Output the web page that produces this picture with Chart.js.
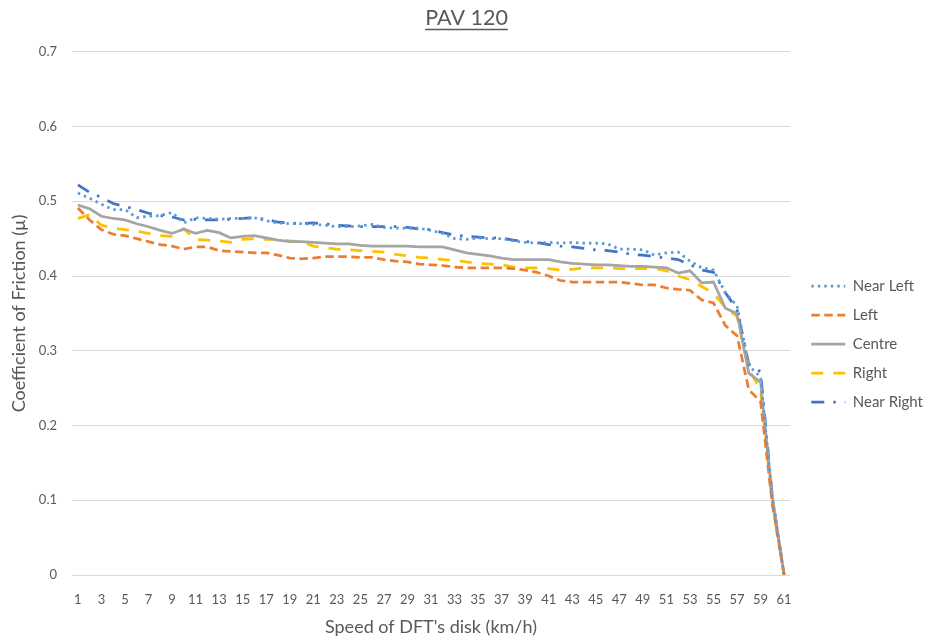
<!DOCTYPE html>
<html>
<head>
<meta charset="utf-8">
<title>PAV 120</title>
<script src="https://cdn.jsdelivr.net/npm/chart.js@4.4.1/dist/chart.umd.min.js"></script>
<style>
  body { margin: 0; background: #fff; }
  canvas { display: block; }
</style>
</head>
<body>
<canvas id="chart" width="933" height="641"></canvas>
<script>
// speed of the DFT disk (km/h), one category per reading
var speeds = [1, 2, 3, 4, 5, 6, 7, 8, 9, 10,
  11, 12, 13, 14, 15, 16, 17, 18, 19, 20,
  21, 22, 23, 24, 25, 26, 27, 28, 29, 30,
  31, 32, 33, 34, 35, 36, 37, 38, 39, 40,
  41, 42, 43, 44, 45, 46, 47, 48, 49, 50,
  51, 52, 53, 54, 55, 56, 57, 58, 59, 60, 61];

var nearLeft = [0.511, 0.504, 0.496, 0.489, 0.489, 0.478, 0.480, 0.481, 0.485, 0.471,
  0.478, 0.477, 0.476, 0.477, 0.477, 0.478, 0.474, 0.471, 0.470, 0.470,
  0.469, 0.468, 0.466, 0.466, 0.467, 0.469, 0.465, 0.464, 0.464, 0.464,
  0.461, 0.457, 0.450, 0.449, 0.451, 0.450, 0.450, 0.447, 0.445, 0.444,
  0.445, 0.444, 0.445, 0.444, 0.444, 0.443, 0.436, 0.436, 0.435, 0.428,
  0.431, 0.432, 0.420, 0.411, 0.408, 0.378, 0.360, 0.280, 0.265, 0.100, 0.000];

var left = [0.491, 0.475, 0.462, 0.456, 0.454, 0.450, 0.446, 0.442, 0.440, 0.436,
  0.439, 0.439, 0.434, 0.433, 0.432, 0.431, 0.431, 0.428, 0.424, 0.423,
  0.424, 0.426, 0.426, 0.426, 0.425, 0.425, 0.422, 0.420, 0.419, 0.416,
  0.415, 0.414, 0.412, 0.411, 0.411, 0.411, 0.411, 0.410, 0.408, 0.405,
  0.400, 0.394, 0.392, 0.392, 0.392, 0.392, 0.392, 0.390, 0.388, 0.388,
  0.384, 0.382, 0.381, 0.368, 0.364, 0.334, 0.320, 0.248, 0.232, 0.095, 0.000];

var centre = [0.495, 0.490, 0.480, 0.477, 0.475, 0.470, 0.466, 0.461, 0.457, 0.463,
  0.457, 0.461, 0.458, 0.451, 0.453, 0.454, 0.451, 0.448, 0.446, 0.446,
  0.445, 0.444, 0.443, 0.443, 0.441, 0.440, 0.440, 0.440, 0.440, 0.439,
  0.439, 0.439, 0.435, 0.431, 0.429, 0.427, 0.424, 0.422, 0.422, 0.422,
  0.422, 0.419, 0.417, 0.416, 0.415, 0.415, 0.414, 0.413, 0.413, 0.412,
  0.411, 0.404, 0.407, 0.391, 0.392, 0.357, 0.350, 0.270, 0.258, 0.105, 0.000];

var right = [0.477, 0.482, 0.468, 0.464, 0.462, 0.460, 0.457, 0.454, 0.453, 0.463,
  0.449, 0.448, 0.447, 0.445, 0.449, 0.450, 0.449, 0.449, 0.447, 0.446,
  0.440, 0.438, 0.436, 0.435, 0.434, 0.433, 0.432, 0.429, 0.427, 0.425,
  0.424, 0.422, 0.421, 0.419, 0.417, 0.416, 0.415, 0.412, 0.411, 0.411,
  0.410, 0.408, 0.409, 0.411, 0.411, 0.411, 0.410, 0.410, 0.410, 0.410,
  0.407, 0.400, 0.395, 0.386, 0.377, 0.358, 0.346, 0.275, 0.248, 0.095, 0.000];

var nearRight = [0.522, 0.512, 0.505, 0.497, 0.493, 0.489, 0.484, 0.481, 0.479, 0.475,
  0.476, 0.475, 0.475, 0.476, 0.477, 0.478, 0.476, 0.472, 0.471, 0.470,
  0.471, 0.470, 0.468, 0.467, 0.466, 0.466, 0.466, 0.466, 0.465, 0.463,
  0.462, 0.458, 0.455, 0.453, 0.452, 0.451, 0.451, 0.448, 0.446, 0.445,
  0.442, 0.440, 0.439, 0.437, 0.435, 0.434, 0.432, 0.429, 0.428, 0.426,
  0.424, 0.422, 0.415, 0.408, 0.405, 0.378, 0.355, 0.282, 0.272, 0.105, 0.000];

var yMin = 0;
var yMax = 0.7;
var yStep = 0.1;

var textColor = "#595959";
Chart.defaults.font.family = "Lato, 'Open Sans', sans-serif";
Chart.defaults.color = textColor;

// legend sits 23px right of the plot, measure it so the plot ends at x=790
var legendFont = 15;
var mctx = document.createElement("canvas").getContext("2d");
mctx.font = legendFont + "px Lato";
var names = ["Near Left", "Left", "Centre", "Right", "Near Right"];
var widest = 0;
names.forEach(function(n) { widest = Math.max(widest, mctx.measureText(n).width); });
var legendWidth = 14 + 34 + legendFont / 2 + widest + 10;
var gapRight = Math.max(0, 933 - 790 - legendWidth);

// Excel style underline under the title
var underlineTitle = {
  id: "underlineTitle",
  afterDraw: function(chart) {
    var t = chart.titleBlock;
    if (!t) return;
    var ctx = chart.ctx;
    ctx.save();
    ctx.font = "21.5px Lato";
    var w = ctx.measureText("PAV 120").width;
    var cx = (t.left + t.right) / 2;
    ctx.strokeStyle = textColor;
    ctx.lineWidth = 1.5;
    ctx.beginPath();
    ctx.moveTo(cx - w / 2, 29.5);
    ctx.lineTo(cx + w / 2, 29.5);
    ctx.stroke();
    ctx.restore();
  }
};

var ctx = document.getElementById("chart");

var chart = new Chart(ctx, {
  type: "line",
  data: {
    labels: speeds,
    datasets: [
      { label: "Near Left", data: nearLeft, borderColor: "#5B9BD5", borderWidth: 2.75, borderDash: [2.5, 4] },
      { label: "Left", data: left, borderColor: "#ED7D31", borderWidth: 2.75, borderDash: [8.5, 4.5] },
      { label: "Centre", data: centre, borderColor: "#A5A5A5", borderWidth: 2.75 },
      { label: "Right", data: right, borderColor: "#FFC000", borderWidth: 2.75, borderDash: [12, 10] },
      { label: "Near Right", data: nearRight, borderColor: "#4472C4", borderWidth: 2.75, borderDash: [13, 9, 2.5, 9] }
    ]
  },
  options: {
    responsive: false,
    animation: false,
    elements: {
      point: { radius: 0, hoverRadius: 0 },
      line: { tension: 0, fill: false }
    },
    layout: { padding: 0 },
    plugins: {
      tooltip: { enabled: false },
      title: {
        display: true,
        text: "PAV 120",
        color: textColor,
        font: { size: 21.5, weight: "normal" },
        padding: { top: 5, bottom: 21 }
      },
      legend: {
        position: "right",
        align: "center",
        title: { display: true, text: " ", font: { size: 10 }, padding: { top: 35, bottom: 0 } },
        labels: {
          usePointStyle: true,
          pointStyleWidth: 34,
          padding: 14,
          color: textColor,
          font: { size: legendFont },
          generateLabels: function(chart) {
            return chart.data.datasets.map(function(ds, i) {
              return {
                text: ds.label,
                strokeStyle: ds.borderColor,
                fillStyle: ds.borderColor,
                lineWidth: ds.borderWidth,
                lineDash: ds.borderDash || [],
                lineCap: "butt",
                pointStyle: "line",
                fontColor: textColor,
                hidden: false,
                datasetIndex: i
              };
            });
          }
        }
      }
    },
    scales: {
      x: {
        offset: true,
        grid: { display: false, drawTicks: false },
        border: { display: false },
        ticks: {
          autoSkip: false,
          maxRotation: 0,
          padding: 17,
          font: { size: 13 },
          color: textColor,
          callback: function(value, index) {
            return index % 2 === 0 ? String(speeds[index]) : "";
          }
        },
        title: {
          display: true,
          text: "Speed of DFT's disk (km/h)",
          color: textColor,
          font: { size: 18 },
          padding: { top: 0, bottom: 3 }
        },
        afterFit: function(scale) { scale.height = 66; }
      },
      y: {
        min: yMin,
        max: yMax,
        ticks: { stepSize: yStep, padding: 15, font: { size: 13 }, color: textColor },
        grid: { color: "#D9D9D9", drawTicks: false },
        border: { display: false },
        title: {
          display: true,
          text: "Coefficient of Friction (µ)",
          color: textColor,
          font: { size: 18 },
          padding: { top: 8, bottom: 0 }
        },
        afterFit: function(scale) { scale.width = 72; }
      },
      gap: {
        type: "linear",
        position: "right",
        display: true,
        grid: { display: false, drawTicks: false },
        border: { display: false },
        ticks: { display: false },
        afterFit: function(scale) { scale.width = gapRight; }
      }
    }
  },
  plugins: [underlineTitle]
});
</script>
</body>
</html>
